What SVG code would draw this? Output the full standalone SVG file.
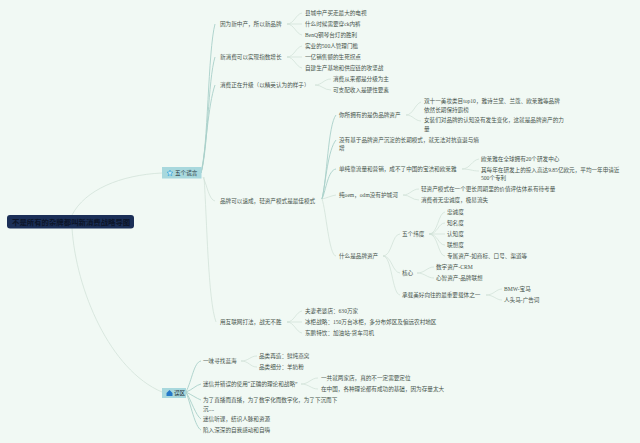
<svg xmlns="http://www.w3.org/2000/svg" width="640" height="443" viewBox="0 0 640 443">
<style>
text{font-family:"Liberation Serif","Noto Sans CJK SC",serif;font-size:5.6px;fill:#47544c;dominant-baseline:central}
#connectors path{fill:none;stroke:#cfdfd5;stroke-width:.7}
#connectors .t{stroke:#a9d0c9;stroke-width:.9}
</style>
<rect width="640" height="443" fill="#f1f9f4"/>
<g id="connectors">
<path d="M72 215C85 190 120 175 162 173"/>
<path d="M72 228C76 290 110 370 162 392"/>
<path class="t" d="M201 173C208 150 208 50 215 24"/>
<path class="t" d="M201 173C208 150 208 80 215 57"/>
<path class="t" d="M201 173C206 150 208 105 215 85"/>
<path d="M203 177C207 185 209 200 215 201"/>
<path d="M204 177C207 220 208 300 216 322"/>
<path d="M287 24C294 24 296 14 302 13M287 24H302M287 24C294 24 296 34 302 35"/>
<path d="M287 57C294 57 296 47 302 46M287 57H302M287 57C294 57 296 67 302 68"/>
<path d="M315 85C322 85 324 79 331 79M315 85C322 85 324 90 331 90"/>
<path class="t" d="M322 199C327 180 328 125 336 115"/>
<path class="t" d="M322 199C326 180 328 150 336 140"/>
<path class="t" d="M322 199C326 190 328 170 336 169"/>
<path d="M322 199C327 198 330 196 336 195"/>
<path d="M322 199C326 210 329 256 336 256"/>
<path d="M406 115C413 115 415 104 421 102M406 115C413 115 415 121 421 121"/>
<path d="M462 169C470 169 472 160 479 159M462 169C470 169 472 171 479 171"/>
<path d="M403 195C410 195 412 189 419 189M403 195C410 195 412 200 419 200"/>
<path d="M383 256C392 256 392 234 400 234M383 256C392 256 392 272 400 273M383 256C392 256 392 294 400 295"/>
<path d="M429 234C438 234 438 213 445 212M429 234C438 234 438 223 445 223M429 234H445M429 234C438 234 438 245 445 245M429 234C438 234 438 256 445 256"/>
<path d="M417 273C425 273 427 267 434 267M417 273C425 273 427 278 434 278"/>
<path d="M486 295C494 295 496 289 502 289M486 295C494 295 496 300 502 300"/>
<path d="M287 322C294 322 296 312 302 311M287 322H302M287 322C294 322 296 332 302 333"/>
<path class="t" d="M186 392C192 380 194 362 201 361"/>
<path class="t" d="M186 392C192 390 196 385 201 384"/>
<path class="t" d="M186 392C192 395 196 398 201 400"/>
<path class="t" d="M186 392C191 400 196 416 201 419"/>
<path class="t" d="M186 392C191 405 195 427 201 430"/>
<path d="M241 361C249 361 250 356 257 356M241 361C249 361 250 367 257 367"/>
<path d="M301 384C309 384 311 378 318 378M301 384C309 384 311 389 318 389"/>
</g>
<g id="root"><rect x="7" y="215" width="127" height="13.500" rx="3" fill="#1b2f57"/><text x="12" y="222" style="font-size:7.400px;fill:#0b1428;font-weight:700">不是所有的杂牌都叫新消费战略导图</text></g>
<g id="n-lies"><rect x="162" y="167" width="39.500" height="11.500" fill="#a8d8dd"/><polygon points="170,170 170.800,172 173,172.200 171.300,173.600 171.900,175.800 170,174.600 168.100,175.800 168.700,173.600 167,172.200 169.200,172" fill="#cdeaf2" stroke="#2ea0dc" stroke-width=".6"/><text x="175" y="173" style="fill:#26323a">五个谎言</text></g>
<g id="n-wrong"><rect x="162" y="388" width="24" height="10" fill="#a8d8dd"/><path d="M169.500 390L166.500 393V396H172.500V393Z" fill="#2478c8"/><text x="174" y="393" style="fill:#26323a">误区</text></g>
<g id="n1"><text x="220" y="24">因为新中产，所以新品牌</text></g>
<g id="n2"><text x="220" y="57">新消费可以实现指数增长</text></g>
<g id="n3"><text x="220" y="85">消费正在升级（以精英认为的样子）</text></g>
<g id="n4"><text x="220" y="201">品牌可以速成，轻资产模式是最佳模式</text></g>
<g id="n5"><text x="220" y="322">用互联网打法，战无不胜</text></g>
<g id="n6"><text x="305" y="13">县城中产买走最大的电视</text></g>
<g id="n7"><text x="305" y="24">什么时候需要穿ck内裤</text></g>
<g id="n8"><text x="305" y="35">BenQ钢琴台灯的胜利</text></g>
<g id="n9"><text x="305" y="46">实业的500人管理门槛</text></g>
<g id="n10"><text x="305" y="57">一亿销售额的生死拐点</text></g>
<g id="n11"><text x="305" y="68">自建生产基地和供应链的攻坚战</text></g>
<g id="n12"><text x="333" y="79">消费从来都是分级为主</text></g>
<g id="n13"><text x="333" y="90">可支配收入是硬性要素</text></g>
<g id="n14"><text x="339" y="115">你所拥有的是伪品牌资产</text></g>
<g id="n15"><text x="424" y="101">双十一美妆类目top10，雅诗兰黛、兰蔻、欧莱雅等品牌</text><text x="424" y="110">依然长期保持霸榜</text></g>
<g id="n16"><text x="424" y="120">女装们对品牌的认知没有发生变化，这就是品牌资产的力</text><text x="424" y="129">量</text></g>
<g id="n17"><text x="339" y="140">没有基于品牌资产沉淀的长期模式，就无法对抗衰退与熵</text><text x="339" y="148">增</text></g>
<g id="n18"><text x="339" y="169">单纯靠流量和营销，成不了中国的宝洁和欧莱雅</text></g>
<g id="n19"><text x="481" y="159">欧莱雅在全球拥有20个研发中心</text></g>
<g id="n20"><text x="481" y="170">其每年在研发上的投入高达9.85亿欧元，平均一年申请近</text><text x="481" y="178">500个专利</text></g>
<g id="n21"><text x="339" y="195">纯oem，odm没有护城河</text></g>
<g id="n22"><text x="421" y="189">轻资产模式在一个更长周期里的价值评估体系有待考量</text></g>
<g id="n23"><text x="421" y="200">消费者无忠诚度，极易流失</text></g>
<g id="n24"><text x="339" y="256">什么是品牌资产</text></g>
<g id="n25"><text x="402" y="234">五个纬度</text></g>
<g id="n26"><text x="447" y="212">忠诚度</text></g>
<g id="n27"><text x="447" y="223">知名度</text></g>
<g id="n28"><text x="447" y="234">认知度</text></g>
<g id="n29"><text x="447" y="245">联想度</text></g>
<g id="n30"><text x="447" y="256">专属资产-如商标、口号、渠道等</text></g>
<g id="n31"><text x="402" y="273">核心</text></g>
<g id="n32"><text x="436" y="267">数字资产-CRM</text></g>
<g id="n33"><text x="436" y="278">心智资产-品牌联想</text></g>
<g id="n34"><text x="402" y="295">承载美好向往的最重要载体之一</text></g>
<g id="n35"><text x="504" y="289">BMW-宝马</text></g>
<g id="n36"><text x="504" y="300">人头马-广告词</text></g>
<g id="n37"><text x="305" y="311">夫妻老婆店：630万家</text></g>
<g id="n38"><text x="305" y="322">冰柜战略：150万台冰柜，多分布郊区及偏远农村地区</text></g>
<g id="n39"><text x="305" y="333">东鹏特饮：加油站-货车司机</text></g>
<g id="n40"><text x="203" y="361">一味寻找蓝海</text></g>
<g id="n41"><text x="259" y="356">品类再造：鲜炖燕窝</text></g>
<g id="n42"><text x="259" y="367">品类细分：羊奶粉</text></g>
<g id="n43"><text x="203" y="384">迷信并错误的使用“正确的理论和战略”</text></g>
<g id="n44"><text x="321" y="378">一共就两家店，真的不一定需要定位</text></g>
<g id="n45"><text x="321" y="389">在中国，各种理论都有成功的基础，因为存量太大</text></g>
<g id="n46"><text x="203" y="400">为了直播而直播，为了数字化而数字化，为了下沉而下</text><text x="203" y="409">沉....</text></g>
<g id="n47"><text x="203" y="419">迷信听课，结识人脉和资源</text></g>
<g id="n48"><text x="203" y="430">陷入深深的自我感动和自嗨</text></g>
</svg>
